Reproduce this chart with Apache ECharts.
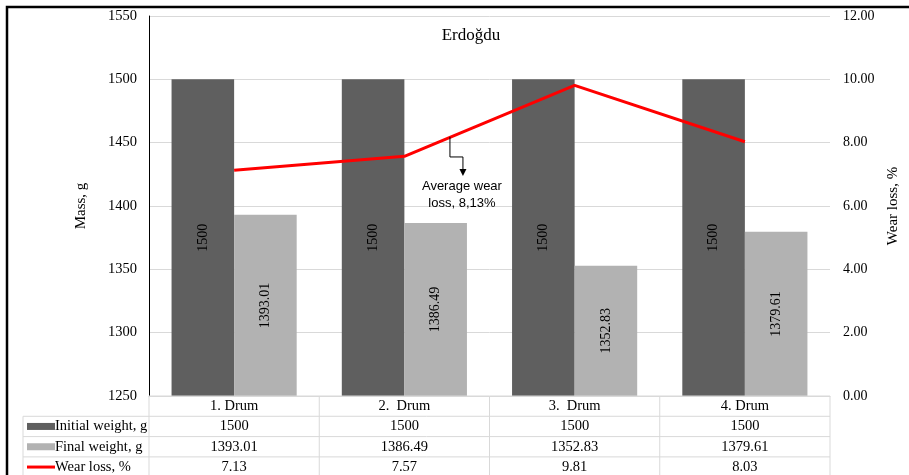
<!DOCTYPE html>
<html>
<head>
<meta charset="utf-8">
<script src="https://cdn.jsdelivr.net/npm/echarts@6/dist/echarts.min.js"></script>
<style>
  html, body { margin: 0; padding: 0; background: #fff; }
  #chart { width: 909px; height: 475px; }
</style>
</head>
<body>
<div id="chart"></div>
<script>
// Drum wear test data (Erdoğdu)
const categories = ['1. Drum', '2.  Drum', '3.  Drum', '4. Drum'];
const initialWeight = [1500, 1500, 1500, 1500];
const finalWeight = [1393.01, 1386.49, 1352.83, 1379.61];
const wearLoss = [7.13, 7.57, 9.81, 8.03];
const seriesNames = ['Initial weight, g', 'Final weight, g', 'Wear loss, %'];
const averageWear = 8.13;
const averageText = ['Average wear', 'loss, 8,13%'];
const massAxis = { min: 1250, max: 1550, interval: 50 };
const wearAxis = { min: 0, max: 12, interval: 2 };

const SERIF = '"Liberation Serif", "Times New Roman", serif';
const SANS = '"Liberation Sans Narrow", "Liberation Sans", Arial, sans-serif';
const DARK = '#5f5f5f';
const LIGHT = '#b2b2b2';
const RED = '#ff0000';
const GRID_LINE = '#d9d9d9';

const chart = echarts.init(document.getElementById('chart'), null, { renderer: 'canvas' });

const grid = { left: 149, right: 79, top: 16, bottom: 79 };

chart.setOption({
  backgroundColor: '#fff',
  animation: false,
  title: {
    text: 'Erdoğdu',
    left: 466, top: 22, textAlign: 'center',
    textStyle: { fontFamily: SERIF, fontSize: 17, fontWeight: 'normal', color: '#000' }
  },
  grid: grid,
  xAxis: {
    type: 'category',
    data: categories,
    axisLine: { show: true, lineStyle: { color: GRID_LINE } },
    axisTick: { show: false },
    axisLabel: { show: false }
  },
  yAxis: [
    {
      type: 'value', min: massAxis.min, max: massAxis.max, interval: massAxis.interval,
      name: 'Mass, g', nameLocation: 'middle', nameGap: 60, nameRotate: 90,
      nameTextStyle: { fontFamily: SERIF, fontSize: 15, color: '#000' },
      axisLine: { show: true, lineStyle: { color: '#000', width: 1 } },
      axisTick: { show: false },
      axisLabel: { fontFamily: SERIF, fontSize: 14.5, color: '#000', margin: 12,
        formatter: v => String(v) },
      splitLine: { lineStyle: { color: GRID_LINE, width: 1 } }
    },
    {
      type: 'value', min: wearAxis.min, max: wearAxis.max, interval: wearAxis.interval,
      name: 'Wear loss, %', nameLocation: 'middle', nameGap: 47, nameRotate: 90,
      nameTextStyle: { fontFamily: SERIF, fontSize: 15, color: '#000' },
      axisLine: { show: false },
      axisTick: { show: false },
      axisLabel: { fontFamily: SERIF, fontSize: 14, color: '#000', margin: 13,
        formatter: v => v.toFixed(2) },
      splitLine: { show: false }
    }
  ],
  series: [
    {
      name: seriesNames[0], type: 'bar', data: initialWeight,
      barGap: '0%', barCategoryGap: '26.5%',
      itemStyle: { color: DARK },
      label: { show: true, position: 'inside', rotate: 90,
        fontFamily: SERIF, fontSize: 14, color: '#000' }
    },
    {
      name: seriesNames[1], type: 'bar', data: finalWeight,
      barGap: '0%', barCategoryGap: '26.5%',
      itemStyle: { color: LIGHT },
      label: { show: true, position: 'inside', rotate: 90,
        fontFamily: SERIF, fontSize: 14, color: '#000' }
    },
    {
      name: seriesNames[2], type: 'line', yAxisIndex: 1, data: wearLoss,
      symbol: 'none', z: 5,
      lineStyle: { color: RED, width: 3 }
    }
  ]
});

// Data table under the plot and the average-wear callout
function buildOverlay() {
  const xs = categories.map((c, i) => chart.convertToPixel({ xAxisIndex: 0 }, i));
  const band = xs.length > 1 ? xs[1] - xs[0] : 170;
  const plotBottom = chart.convertToPixel({ yAxisIndex: 0 }, massAxis.min);
  const rowH = 20.3;
  const legendLeft = 23;
  const tableLeft = xs[0] - band / 2;
  const tableRight = xs[xs.length - 1] + band / 2;
  const els = [];
  const line = (x1, y1, x2, y2, color, w) => els.push({
    type: 'line', shape: { x1, y1, x2, y2 },
    style: { stroke: color || GRID_LINE, lineWidth: w || 1 }, z: 10
  });
  const text = (x, y, s, align, font, size) => els.push({
    type: 'text', x, y, z: 11,
    style: { text: s, fill: '#000', align: align || 'center', verticalAlign: 'middle',
      font: (size || 14.5) + 'px ' + (font || SERIF) }
  });

  // horizontal rules
  line(tableLeft, plotBottom, tableRight, plotBottom);
  for (let r = 1; r <= 4; r++) {
    line(legendLeft, plotBottom + r * rowH, tableRight, plotBottom + r * rowH);
  }
  // vertical rules
  for (let i = 0; i <= xs.length; i++) {
    const x = tableLeft + i * band;
    line(x, plotBottom, x, plotBottom + 4 * rowH);
  }
  line(legendLeft, plotBottom + rowH, legendLeft, plotBottom + 4 * rowH);

  // header row
  categories.forEach((c, i) => text(xs[i], plotBottom + rowH / 2, c));

  // data rows
  const rows = [initialWeight, finalWeight, wearLoss];
  rows.forEach((vals, r) => {
    const cy = plotBottom + (r + 1.5) * rowH;
    vals.forEach((v, i) => text(xs[i], cy, String(v)));
    text(legendLeft + 32, cy, seriesNames[r], 'left');
    if (r < 2) {
      els.push({ type: 'rect', z: 11,
        shape: { x: legendLeft + 4, y: cy - 3.5, width: 28, height: 7 },
        style: { fill: r === 0 ? DARK : LIGHT } });
    } else {
      line(legendLeft + 4, cy, legendLeft + 32, cy, RED, 3);
    }
  });

  // callout: where the wear line crosses the average value
  let k = 0;
  for (let i = 0; i < wearLoss.length - 1; i++) {
    if ((wearLoss[i] - averageWear) * (wearLoss[i + 1] - averageWear) <= 0 && wearLoss[i + 1] > wearLoss[i]) { k = i; break; }
  }
  const t = (averageWear - wearLoss[k]) / (wearLoss[k + 1] - wearLoss[k]);
  const ax = xs[k] + t * band + 3;
  const ay = chart.convertToPixel({ yAxisIndex: 1 }, averageWear + 0.05);
  const elbowY = ay + 20;
  const tipX = ax + 13;
  const tipY = elbowY + 19;
  els.push({ type: 'polyline', z: 12,
    shape: { points: [[ax, ay], [ax, elbowY], [tipX, elbowY], [tipX, tipY - 5]] },
    style: { stroke: '#000', lineWidth: 1, fill: null } });
  els.push({ type: 'polygon', z: 12,
    shape: { points: [[tipX - 3.5, tipY - 7], [tipX + 3.5, tipY - 7], [tipX, tipY]] },
    style: { fill: '#000' } });
  text(tipX - 1, tipY + 10, averageText[0], 'center', SANS, 13);
  text(tipX - 1, tipY + 27, averageText[1], 'center', SANS, 13);

  // outer frame
  els.push({ type: 'rect', z: 20,
    shape: { x: 7, y: 7, width: 940, height: 520 },
    style: { fill: null, stroke: '#000', lineWidth: 2.5 } });

  chart.setOption({ graphic: { elements: els } });
}
buildOverlay();
</script>
</body>
</html>
